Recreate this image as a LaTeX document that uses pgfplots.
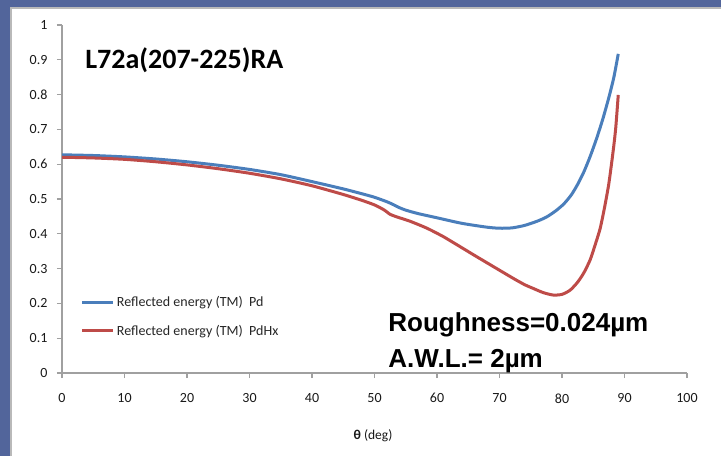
\documentclass[border=0pt]{standalone}
\usepackage{pgfplots}
\pgfplotsset{compat=1.18}
\usepackage{fontspec}
\setmainfont{Carlito}
\newfontfamily\arialfont{Liberation Sans}
\definecolor{slideblue}{HTML}{52659B}
\definecolor{pdblue}{HTML}{4A7EBB}
\definecolor{pdred}{HTML}{BE4B48}
\definecolor{axisgray}{HTML}{A0A0A0}

% Reflected energy (TM) vs incidence angle
\pgfplotstableread{
theta R
0    0.627
5    0.625
10   0.621
15   0.615
20   0.607
25   0.597
30   0.585
35   0.570
40   0.550
45   0.529
48   0.515
50   0.505
52   0.492
53   0.484
54   0.475
55   0.468
57   0.458
60   0.446
64   0.430
68   0.419
70   0.416
72   0.417
74   0.424
76   0.436
77.5 0.448
79   0.466
80.3 0.486
81.5 0.512
82.5 0.542
83.5 0.578
84.5 0.622
85.5 0.672
86.5 0.728
87.5 0.792
88.3 0.850
89   0.917
}\pdtable

\pgfplotstableread{
theta R
0    0.620
5    0.618
10   0.614
15   0.607
20   0.598
25   0.587
30   0.574
35   0.558
40   0.538
45   0.513
48   0.496
50   0.483
51.5 0.469
52.5 0.456
53.5 0.449
55.7 0.436
58.4 0.416
61   0.392
63.7 0.363
66   0.338
69   0.306
72.2 0.272
74   0.254
75.4 0.243
77   0.231
78.6 0.224
80   0.226
81.3 0.238
82.5 0.261
83.5 0.288
84.5 0.325
85.3 0.368
86.1 0.415
86.8 0.475
87.5 0.545
88.2 0.640
88.6 0.705
89   0.799
}\pdhxtable

\begin{document}
\begin{tikzpicture}
\useasboundingbox (0,0) rectangle (721pt,456pt);
\fill[slideblue] (0,0) rectangle (721pt,456pt);
\fill[white] (10pt,0) rectangle (721pt,447pt);
\draw[gray!55, line width=1.5pt] (10.75pt,0) -- (10.75pt,447.75pt) -- (721pt,447.75pt);

\begin{axis}[
  at={(62pt,83pt)}, anchor=south west,
  scale only axis, width=625pt, height=348pt,
  xmin=0, xmax=100, ymin=0, ymax=1,
  axis lines*=left,
  axis line style={draw=axisgray, line width=1.2pt, -},
  xtick={0,10,20,30,40,50,60,70,80,90,100},
  ytick={0,0.1,0.2,0.3,0.4,0.5,0.6,0.7,0.8,0.9,1},
  yticklabels={0,0.1,0.2,0.3,0.4,0.5,0.6,0.7,0.8,0.9,1},
  tick align=outside,
  major tick length=5pt,
  tick style={draw=axisgray, line width=1.2pt},
  tick label style={font=\fontsize{14}{14}\selectfont, text=black!90},
  /pgf/number format/assume math mode=true,
  xticklabel style={yshift=-12pt},
  yticklabel style={xshift=-6pt},
  xlabel={\textbf{θ} (deg)},
  xlabel style={font=\fontsize{13.5}{13.5}\selectfont, text=black!90,
    at={(axis description cs:0.4976,-0.19)}, anchor=base},
  legend style={at={(axis cs:3,0.227)}, anchor=north west, draw=none, fill=none,
    font=\fontsize{14}{14}\selectfont, text=black!85, row sep=13pt,
    inner sep=0pt},
  legend cell align=left,
  legend image code/.code={\draw[#1, line width=3pt] (0pt,0pt) -- (31pt,0pt);},
]
\addplot[pdblue, line width=3pt, smooth, tension=0.4] table[x=theta, y=R] {\pdtable};
\addlegendentry{Reflected energy (TM)\ \ Pd}
\addplot[pdred, line width=3pt, smooth, tension=0.4] table[x=theta, y=R] {\pdhxtable};
\addlegendentry{Reflected energy (TM)\ \ PdHx}

\node[anchor=base west, inner sep=0pt, font=\bfseries\fontsize{28}{28}\selectfont]
  at (axis cs:3.7,0.874) {L72a(207-225)RA};
\node[anchor=base west, inner sep=0pt, font=\arialfont\bfseries\fontsize{26}{26}\selectfont]
  at (axis cs:52.2,0.118) {Roughness=0.024µm};
\node[anchor=base west, inner sep=0pt, font=\arialfont\bfseries\fontsize{26}{26}\selectfont]
  at (axis cs:52.2,0.017) {A.W.L.= 2µm};
\end{axis}
\end{tikzpicture}
\end{document}
